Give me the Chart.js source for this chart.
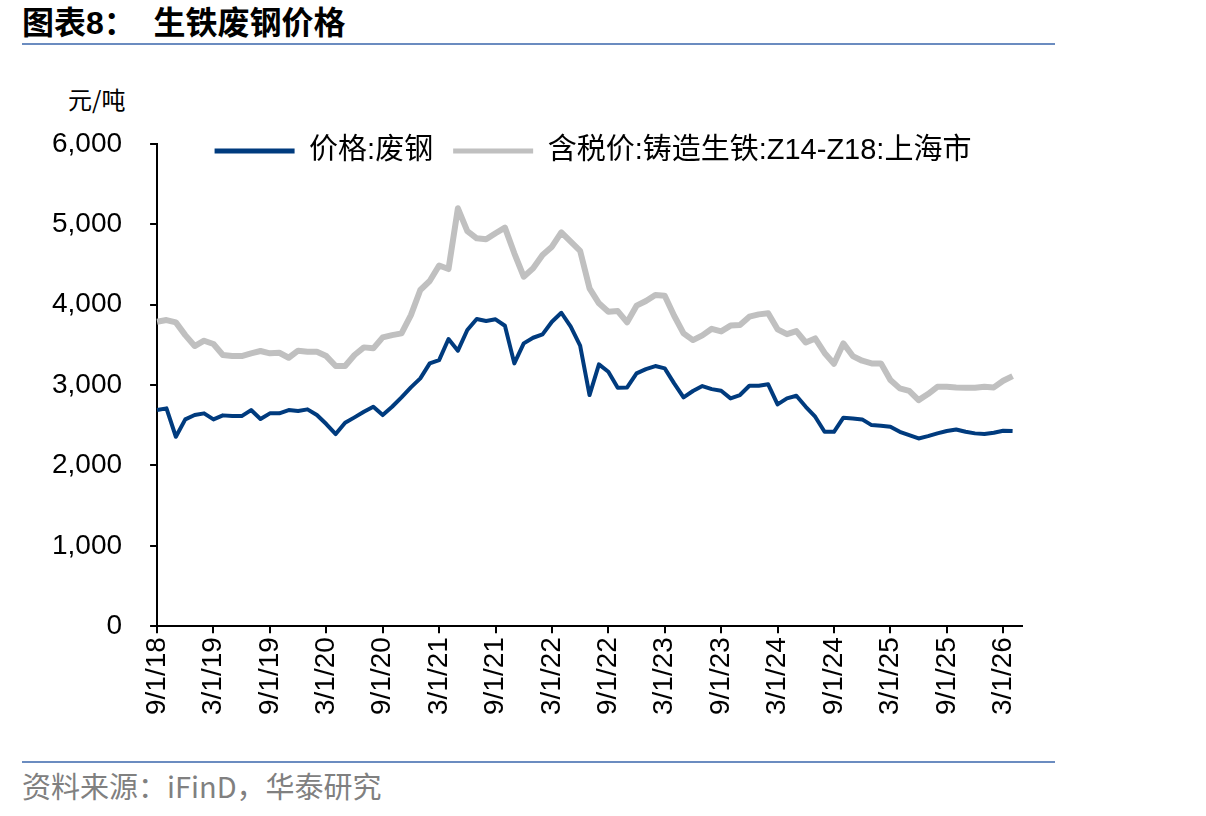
<!DOCTYPE html>
<html>
<head>
<meta charset="utf-8">
<script src="https://cdn.jsdelivr.net/npm/chart.js@4.4.1/dist/chart.umd.min.js"></script>
<style>
  html, body { margin: 0; padding: 0; background: #fff; }
  body { width: 1206px; height: 816px; position: relative; overflow: hidden; font-family: 'Liberation Sans', 'Noto Sans CJK SC', sans-serif; }
  .title { position: absolute; left: 22px; top: -3px; font-size: 32px; font-weight: bold; color: #000; font-family: 'Liberation Sans', 'Noto Sans CJK SC', sans-serif; white-space: pre; }
  .rule { position: absolute; left: 22px; width: 1033px; height: 2px; background: #6b8cc0; }
  .unit { position: absolute; left: 68px; top: 81px; font-size: 24px; color: #000; font-family: 'Noto Sans CJK SC', sans-serif; }
  .source { position: absolute; left: 22px; top: 764px; font-size: 29px; color: #808080; font-family: 'Noto Sans CJK SC', sans-serif; }
  #wrap { position: absolute; left: 0; top: 0; width: 1206px; height: 816px; }
</style>
</head>
<body>
<div class="title">图表8：  生铁废钢价格</div>
<div class="rule" style="top:43px"></div>
<div class="unit">元/吨</div>
<div class="rule" style="top:761px"></div>
<div class="source">资料来源：iFinD，华泰研究</div>
<div id="wrap"><canvas id="lineChart"></canvas></div>
<script>
  // ── DATA (monthly, 2018-09 .. 2026-04) ──
  const seriesNames = ['价格:废钢', '含税价:铸造生铁:Z14-Z18:上海市'];

  const scrapSteel = [
    2689, 2710, 2357, 2573, 2627, 2648, 2573, 2623, 2614, 2614, 2689, 2577,
    2648, 2648, 2689, 2677, 2698, 2627, 2515, 2390, 2531, 2598, 2668, 2730,
    2627, 2730, 2847, 2971, 3084, 3270, 3311, 3573, 3428, 3685, 3822, 3797,
    3818, 3738, 3270, 3519, 3589, 3631, 3788, 3900, 3726, 3490, 2876, 3258,
    3166, 2967, 2971, 3146, 3199, 3237, 3208, 3021, 2847, 2926, 2988, 2950,
    2929, 2834, 2876, 2992, 2992, 3009, 2760, 2834, 2867, 2730, 2606, 2419,
    2419, 2594, 2585, 2573, 2502, 2494, 2481, 2419, 2378, 2336, 2365, 2399,
    2428, 2448, 2419, 2399, 2390, 2407, 2432, 2428
  ];

  const pigIron = [
    3788, 3809, 3780, 3622, 3486, 3552, 3511, 3374, 3361, 3361, 3395, 3424,
    3395, 3402, 3340, 3428, 3415, 3415, 3361, 3237, 3237, 3374, 3469, 3457,
    3594, 3622, 3643, 3871, 4183, 4295, 4488, 4444, 5200, 4917, 4826, 4814,
    4889, 4959, 4640, 4349, 4453, 4619, 4722, 4901, 4784, 4670, 4204, 4017,
    3913, 3921, 3781, 3988, 4046, 4121, 4112, 3863, 3644, 3560, 3618, 3700,
    3668, 3740, 3747, 3851, 3880, 3893, 3694, 3633, 3672, 3530, 3581, 3400,
    3266, 3519, 3361, 3303, 3270, 3270, 3063, 2959, 2929, 2813, 2888, 2979,
    2979, 2971, 2967, 2967, 2979, 2971, 3054, 3112
  ];

  // month labels 9/1/18 .. 5/1/26 (last one only pads the axis)
  const months = [];
  for (let i = 0; i < 93; i++) {
    const m = (8 + i) % 12 + 1;
    const y = 18 + Math.floor((8 + i) / 12);
    months.push(m + '/1/' + y);
  }

  const yTicks = [0, 1000, 2000, 3000, 4000, 5000, 6000];
  const tickEvery = 6;

  const BLUE = '#003b7e';
  const GREY = '#c0c0c0';
  const FONT = "'Liberation Sans', 'Noto Sans CJK SC', sans-serif";
  const LEGEND_DX = 70;
  const LEGEND_MID = 151;

  // legend sits over the plot in the original; move it there after layout
  const legendShift = {
    id: 'legendShift',
    afterLayout(chart) {
      const lg = chart.legend;
      const o = lg.options.labels;
      const size = o.font.size;
      const h = lg.bottom - lg.top;
      lg.left += LEGEND_DX;
      lg.right += LEGEND_DX;
      lg.top = LEGEND_MID - o.padding - size / 2;
      lg.bottom = lg.top + h;
    }
  };

  // ── LINE CHART ──
  const ctx = document.getElementById('lineChart').getContext('2d');
  new Chart(ctx, {
    type: 'line',
    data: {
      labels: months,
      datasets: [
        {
          label: seriesNames[0],
          data: scrapSteel,
          borderColor: BLUE,
          backgroundColor: BLUE,
          borderWidth: 4,
          pointRadius: 0,
          borderJoinStyle: 'round',
          tension: 0,
          order: 1
        },
        {
          label: seriesNames[1],
          data: pigIron,
          borderColor: GREY,
          backgroundColor: GREY,
          borderWidth: 6,
          pointRadius: 0,
          borderJoinStyle: 'round',
          tension: 0,
          order: 2
        }
      ]
    },
    options: {
      responsive: true,
      maintainAspectRatio: false,
      animation: false,
      layout: { padding: { left: 24, right: 184, top: 85, bottom: 97 } },
      plugins: {
        tooltip: { enabled: false },
        legend: {
          position: 'top',
          labels: {
            color: '#000',
            font: { family: FONT, size: 29 },
            boxWidth: 80,
            boxHeight: 5,
            padding: 20,
            generateLabels(ch) {
              const items = Chart.defaults.plugins.legend.labels.generateLabels(ch);
              items.forEach(it => { it.lineWidth = 0; });
              return items;
            }
          }
        }
      },
      scales: {
        x: {
          type: 'category',
          offset: false,
          border: { display: true, color: '#000', width: 2 },
          grid: {
            drawOnChartArea: false,
            drawTicks: true,
            tickLength: 7,
            lineWidth: 2,
            tickColor: c => (c.index % tickEvery === 0 ? '#000' : 'rgba(0,0,0,0)')
          },
          ticks: {
            autoSkip: false,
            maxRotation: 90,
            minRotation: 90,
            padding: 4,
            color: '#000',
            font: { family: FONT, size: 28 },
            callback: (v, i) => (i % tickEvery === 0 ? months[i] : '')
          }
        },
        y: {
          min: 0,
          max: 6000,
          border: { display: true, color: '#000', width: 2 },
          grid: { drawOnChartArea: false, drawTicks: true, tickLength: 7, lineWidth: 2, tickColor: '#000' },
          afterBuildTicks: s => { s.ticks = yTicks.map(v => ({ value: v })); },
          ticks: {
            padding: 28,
            color: '#000',
            font: { family: FONT, size: 28 },
            callback: v => v.toLocaleString('en-US')
          }
        }
      }
    },
    plugins: [legendShift]
  });
</script>
</body>
</html>
